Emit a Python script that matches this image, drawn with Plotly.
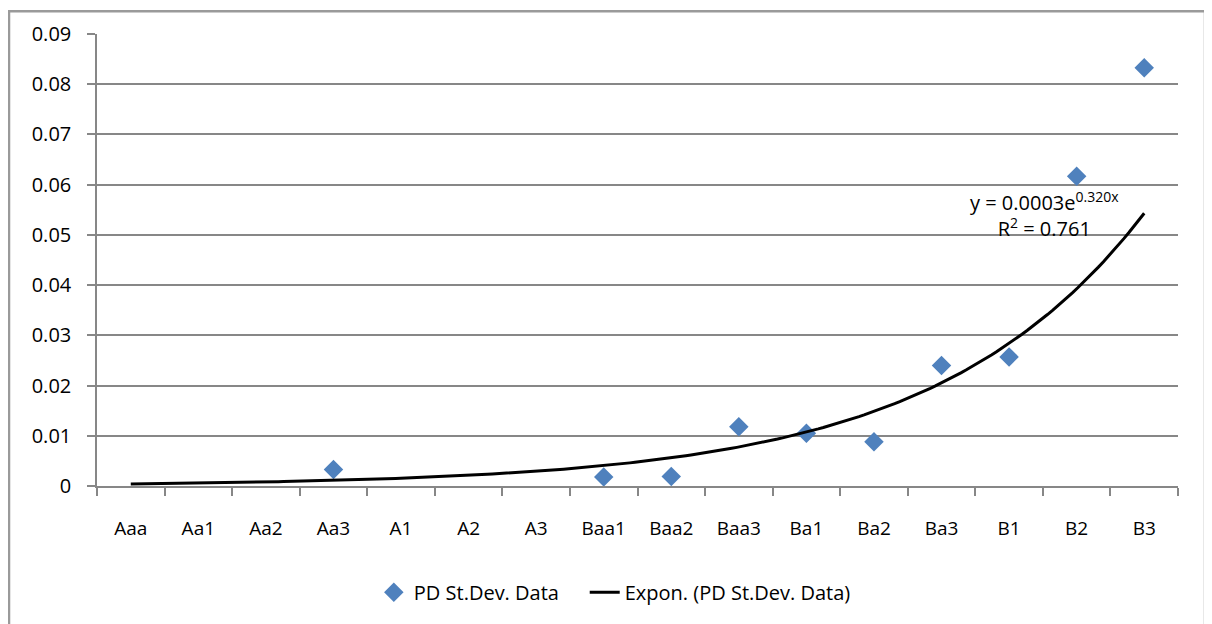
import numpy as np
import plotly.graph_objects as go

categories = ["Aaa", "Aa1", "Aa2", "Aa3", "A1", "A2", "A3", "Baa1", "Baa2",
              "Baa3", "Ba1", "Ba2", "Ba3", "B1", "B2", "B3"]
pd_stdev = [None, None, None, 0.0033, None, None, None, 0.0018, 0.0019,
            0.0118, 0.0105, 0.0088, 0.0240, 0.0257, 0.0617, 0.0833]
y_ticks = [0, 0.01, 0.02, 0.03, 0.04, 0.05, 0.06, 0.07, 0.08, 0.09]
y_tick_text = ["0", "0.01", "0.02", "0.03", "0.04", "0.05", "0.06", "0.07", "0.08", "0.09"]
trend_label = "y = 0.0003e<sup>0.320x</sup><br>R<sup>2</sup> = 0.761"

idx = np.arange(len(categories))
# exponential trendline fitted (Excel style, x = 1..n) from the data
xs = np.array([i + 1 for i, v in enumerate(pd_stdev) if v is not None], float)
ys = np.array([v for v in pd_stdev if v is not None], float)
b, ln_a = np.polyfit(xs, np.log(ys), 1)
x_fine = np.linspace(1, len(categories), 200)
trend_y = np.exp(ln_a) * np.exp(b * x_fine)

FONT = "Open Sans"
GRID = "#878787"

fig = go.Figure()
fig.add_trace(go.Scatter(
    x=idx, y=pd_stdev, mode="markers", name="PD St.Dev. Data\u00a0\u00a0\u00a0\u00a0",
    marker=dict(symbol="diamond", size=15, color="#4f81bd"),
))
fig.add_trace(go.Scatter(
    x=x_fine - 1, y=trend_y, mode="lines", name="Expon. (PD St.Dev. Data)",
    line=dict(color="black", width=3),
))

fig.update_layout(
    width=1204, height=616,
    margin=dict(l=89, r=34, t=24, b=135),
    paper_bgcolor="white", plot_bgcolor="white",
    font=dict(family=FONT, size=19, color="black"),
    showlegend=True,
    legend=dict(orientation="h", x=0.479, xanchor="center", y=-0.235, yanchor="middle",
                font=dict(size=20), tracegroupgap=0),
    xaxis=dict(
        range=[-0.5, len(categories) - 0.5],
        tickmode="array", tickvals=list(idx), ticktext=categories,
        ticks="", showgrid=False, zeroline=False,
        showline=True, linecolor=GRID, linewidth=1.5,
        ticklabelstandoff=24, tickfont=dict(size=19),
        minor=dict(tickmode="array", tickvals=list(np.arange(-0.5, len(categories), 1.0)),
                   ticks="outside", ticklen=8, tickcolor=GRID, tickwidth=1.5, showgrid=False),
    ),
    yaxis=dict(
        range=[0, 0.09], tickmode="array", tickvals=y_ticks, ticktext=y_tick_text,
        ticks="outside", ticklen=8, tickcolor=GRID, tickwidth=1.5,
        showgrid=True, gridcolor=GRID, gridwidth=1.5, zeroline=False,
        showline=True, linecolor=GRID, linewidth=1.5,
        ticklabelstandoff=12, tickfont=dict(size=20),
    ),
    annotations=[dict(
        x=13.52, y=0.0541, xref="x", yref="y", text=trend_label, showarrow=False,
        align="center", font=dict(size=20, color="black"),
    )],
    shapes=[dict(type="path", xref="paper", yref="paper",
                 path="M -0.0814,-0.35 L -0.0814,1.0503 L 1.0250,1.0503 L 1.0250,-0.35",
                 line=dict(color="#9a9a9a", width=2.5))],
)

fig.write_html("out.html")
